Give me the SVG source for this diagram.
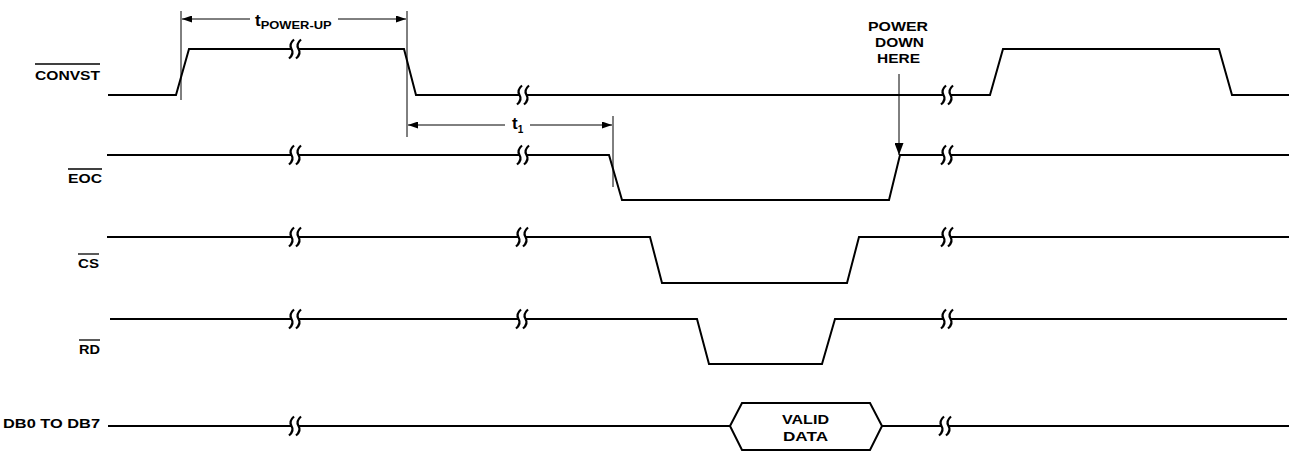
<svg xmlns="http://www.w3.org/2000/svg" xmlns:xlink="http://www.w3.org/1999/xlink" width="1295" height="453" viewBox="0 0 1295 453">
<style>
.sig{fill:none;stroke:#000;stroke-width:2;stroke-linejoin:miter}
.thin{fill:none;stroke:#000;stroke-width:1}
.lbl{font-family:"Liberation Sans",Arial,sans-serif;font-weight:bold;font-size:13px;fill:#000}
.big{font-size:13.5px}
.ovl{stroke:#000;stroke-width:1.3}
.wv{fill:none;stroke:#000;stroke-width:2.2}
</style>
<defs>
<marker id="ah" viewBox="0 0 10 7" refX="10" refY="3.5" markerWidth="10" markerHeight="7" markerUnits="userSpaceOnUse" orient="auto-start-reverse"><path d="M0,0 L10,3.5 L0,7z" fill="#000"/></marker>
<marker id="ahb" viewBox="0 0 12 9" refX="12" refY="4.5" markerWidth="12" markerHeight="9" markerUnits="userSpaceOnUse" orient="auto"><path d="M0,0 L12,4.5 L0,9z" fill="#000"/></marker>
<g id="brk">
<rect x="-3.5" y="-2.5" width="7" height="5" fill="#fff"/>
<path class="wv" d="M-1,-9.5 Q-6.5,-4.75 -3.5,0 Q-0.5,4.75 -6,9.5"/>
<path class="wv" d="M6,-9.5 Q0.5,-4.75 3.5,0 Q6.5,4.75 1,9.5"/>
</g>
</defs>
<rect width="1295" height="453" fill="#fff"/>

<g id="convst">
<text class="lbl" x="35" y="80" textLength="65" lengthAdjust="spacingAndGlyphs">CONVST</text>
<line class="ovl" x1="35" y1="64" x2="100" y2="64"/>
<polyline class="sig" points="108,95 176,95 189,49 404,49 416,95 990,95 1003,49 1219,49 1232,95 1289,95"/>
<use href="#brk" x="295" y="49"/>
<use href="#brk" x="523" y="95"/>
<use href="#brk" x="947" y="95"/>
</g>

<g id="eoc">
<text class="lbl" x="68" y="183" textLength="34" lengthAdjust="spacingAndGlyphs">EOC</text>
<line class="ovl" x1="68" y1="169" x2="102" y2="169"/>
<polyline class="sig" points="107,155 609,155 622,200 889,200 900,155 1289,155"/>
<use href="#brk" x="295" y="155"/>
<use href="#brk" x="523" y="155"/>
<use href="#brk" x="947" y="155"/>
</g>

<g id="cs">
<text class="lbl" x="78" y="268" textLength="21" lengthAdjust="spacingAndGlyphs">CS</text>
<line class="ovl" x1="78" y1="254" x2="99" y2="254"/>
<polyline class="sig" points="107,237 650,237 662,283 847,283 859,237 1289,237"/>
<use href="#brk" x="295" y="237"/>
<use href="#brk" x="522" y="237"/>
<use href="#brk" x="947" y="237"/>
</g>

<g id="rd">
<text class="lbl" x="79" y="354" textLength="21" lengthAdjust="spacingAndGlyphs">RD</text>
<line class="ovl" x1="79" y1="340" x2="100" y2="340"/>
<polyline class="sig" points="110,319 697,319 709,364 822,364 835,319 1287,319"/>
<use href="#brk" x="295" y="319"/>
<use href="#brk" x="522" y="319"/>
<use href="#brk" x="947" y="319"/>
</g>

<g id="db">
<text class="lbl" x="3" y="428" textLength="97" lengthAdjust="spacingAndGlyphs">DB0 TO DB7</text>
<line class="sig" x1="108" y1="426" x2="730" y2="426"/>
<polygon class="sig" points="730,426 742,403 870,403 882,426 870,450 742,450"/>
<line class="sig" x1="882" y1="426" x2="1289" y2="426"/>
<use href="#brk" x="295" y="426"/>
<use href="#brk" x="945" y="426"/>
<text class="lbl" x="782" y="424" textLength="47" lengthAdjust="spacingAndGlyphs">VALID</text>
<text class="lbl" x="783" y="441" textLength="45" lengthAdjust="spacingAndGlyphs">DATA</text>
</g>

<g id="power-down-label">
<text class="lbl big" x="868" y="31" textLength="60" lengthAdjust="spacingAndGlyphs">POWER</text>
<text class="lbl big" x="875" y="47" textLength="49" lengthAdjust="spacingAndGlyphs">DOWN</text>
<text class="lbl big" x="877" y="63" textLength="43" lengthAdjust="spacingAndGlyphs">HERE</text>
</g>

<g id="timing-labels">
<text class="lbl" x="255" y="26"><tspan font-size="17">t</tspan><tspan font-size="10" dy="3" textLength="71" lengthAdjust="spacingAndGlyphs">POWER-UP</tspan></text>
<text class="lbl" x="512" y="129"><tspan font-size="17">t</tspan><tspan font-size="10" dy="4">1</tspan></text>
</g>

<g id="connectors">
<line class="thin" x1="181" y1="11" x2="181" y2="100"/>
<line class="thin" x1="407" y1="11" x2="407" y2="137"/>
<line class="thin" x1="613" y1="116" x2="613" y2="187"/>
<line class="thin" x1="250" y1="19" x2="182" y2="19" marker-end="url(#ah)"/>
<line class="thin" x1="338" y1="19" x2="406" y2="19" marker-end="url(#ah)"/>
<line class="thin" x1="505" y1="125" x2="408" y2="125" marker-end="url(#ah)"/>
<line class="thin" x1="530" y1="125" x2="612" y2="125" marker-end="url(#ah)"/>
<line class="thin" x1="899" y1="74" x2="899" y2="155" marker-end="url(#ahb)"/>
</g>
</svg>
